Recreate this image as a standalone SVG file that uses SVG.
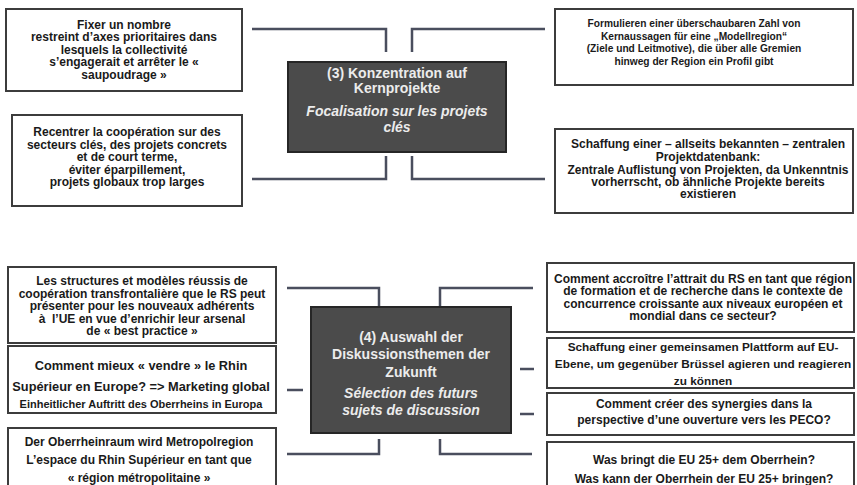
<svg xmlns="http://www.w3.org/2000/svg" width="857" height="485" viewBox="0 0 857 485">
<style>
.box{fill:#ffffff;stroke:#3c3c3c;stroke-width:2}
.core{fill:#4b4b4b;stroke:#262626;stroke-width:2}
.t{font-family:"Liberation Sans",Arial,sans-serif;font-weight:bold;fill:#1a1a1a;text-anchor:middle;font-size:12px}
.s{font-size:10.2px}
.c{font-family:"Liberation Sans",Arial,sans-serif;font-weight:bold;fill:#ececec;text-anchor:middle;font-size:14px}
.i{font-style:italic}
.con{fill:none;stroke:#4a4e5e;stroke-width:2.5}
</style>
<rect width="857" height="485" fill="#ffffff"/>
<g id="connectors">
<polyline class="con" points="252,29 386,29 386,52"/>
<polyline class="con" points="545,29 412,29 412,52"/>
<polyline class="con" points="386,156 386,179 252,179"/>
<polyline class="con" points="412,156 412,179 545,179"/>
<polyline class="con" points="287,288 379,288 379,307"/>
<polyline class="con" points="533,288 440,288 440,307"/>
<line class="con" x1="287" y1="390" x2="303" y2="390"/>
<polyline class="con" points="379,439 379,454 287,454"/>
<polyline class="con" points="440,439 440,454 532,454"/>
<line class="con" x1="520" y1="369" x2="534" y2="369"/>
<line class="con" x1="520" y1="414" x2="534" y2="414"/>
</g>
<g id="n-fixer">
<rect class="box" x="6" y="9" width="236" height="82"/>
<text class="t"><tspan x="124" y="28.5">Fixer un nombre</tspan><tspan x="124" y="41">restreint d’axes prioritaires dans</tspan><tspan x="124" y="53.5">lesquels la collectivité</tspan><tspan x="124" y="66">s’engagerait et arrêter le «</tspan><tspan x="124" y="78.5">saupoudrage »</tspan></text>
</g>
<g id="n-formulieren">
<rect class="box" x="555" y="9" width="298" height="76"/>
<text class="t s"><tspan x="694" y="27">Formulieren einer überschaubaren Zahl von</tspan><tspan x="694" y="39.5">Kernaussagen für eine „Modellregion“</tspan><tspan x="694" y="52">(Ziele und Leitmotive), die über alle Gremien</tspan><tspan x="694" y="64.5">hinweg der Region ein Profil gibt</tspan></text>
</g>
<g id="n-recentrer">
<rect class="box" x="12" y="115" width="230" height="91"/>
<text class="t"><tspan x="127" y="136">Recentrer la coopération sur des</tspan><tspan x="127" y="148.6">secteurs clés, des projets concrets</tspan><tspan x="127" y="161">et de court terme,</tspan><tspan x="127" y="173.6">éviter éparpillement,</tspan><tspan x="127" y="186">projets globaux trop larges</tspan></text>
</g>
<g id="n-datenbank">
<rect class="box" x="555" y="129" width="298" height="84"/>
<text class="t"><tspan x="708" y="148.3">Schaffung einer – allseits bekannten – zentralen</tspan><tspan x="708" y="161">Projektdatenbank:</tspan><tspan x="708" y="173.6">Zentrale Auflistung von Projekten, da Unkenntnis</tspan><tspan x="708" y="186">vorherrscht, ob ähnliche Projekte bereits</tspan><tspan x="708" y="198.3">existieren</tspan></text>
</g>
<g id="n-3">
<rect class="core" x="288" y="62" width="218" height="90"/>
<text class="c"><tspan x="397" y="78">(3) Konzentration auf</tspan><tspan x="397" y="93">Kernprojekte</tspan></text>
<text class="c i"><tspan x="397" y="116">Focalisation sur les projets</tspan><tspan x="397" y="132">clés</tspan></text>
</g>
<g id="n-structures">
<rect class="box" x="8" y="267" width="268" height="76"/>
<text class="t"><tspan x="142" y="285.3">Les structures et modèles réussis de</tspan><tspan x="142" y="297.6">coopération transfrontalière que le RS peut</tspan><tspan x="142" y="310.3">présenter pour les nouveaux adhérents</tspan><tspan x="142" y="322.6" style="white-space:pre">à  l’UE en vue d’enrichir leur arsenal</tspan><tspan x="142" y="335.3">de « best practice »</tspan></text>
</g>
<g id="n-vendre">
<rect class="box" x="8" y="346" width="268" height="67"/>
<text class="t" style="font-size:12.8px"><tspan x="141" y="369.5">Comment mieux « vendre » le Rhin</tspan><tspan x="141" y="390.5">Supérieur en Europe? =&gt; Marketing global</tspan></text>
<text class="t" style="font-size:11px" x="141" y="408">Einheitlicher Auftritt des Oberrheins in Europa</text>
</g>
<g id="n-metropol">
<rect class="box" x="8" y="428" width="268" height="64"/>
<text class="t"><tspan x="139" y="446">Der Oberrheinraum wird Metropolregion</tspan><tspan x="139" y="463.6">L’espace du Rhin Supérieur en tant que</tspan><tspan x="139" y="482">« région métropolitaine »</tspan></text>
</g>
<g id="n-4">
<rect class="core" x="311" y="307" width="200" height="126"/>
<text class="c"><tspan x="411" y="342">(4) Auswahl der</tspan><tspan x="411" y="359">Diskussionsthemen der</tspan><tspan x="411" y="377">Zukunft</tspan></text>
<text class="c i"><tspan x="411" y="398">Sélection des futurs</tspan><tspan x="411" y="415">sujets de discussion</tspan></text>
</g>
<g id="n-attrait">
<rect class="box" x="547" y="263" width="307" height="69"/>
<text class="t"><tspan x="703" y="282.6">Comment accroître l’attrait du RS en tant que région</tspan><tspan x="703" y="295.3">de formation et de recherche dans le contexte de</tspan><tspan x="703" y="307.6">concurrence croissante aux niveaux européen et</tspan><tspan x="703" y="320.3">mondial dans ce secteur?</tspan></text>
</g>
<g id="n-plattform">
<rect class="box" x="547" y="338" width="307" height="50"/>
<text class="t" style="font-size:11.8px"><tspan x="703" y="351">Schaffung einer gemeinsamen Plattform auf EU-</tspan><tspan x="703" y="368">Ebene, um gegenüber Brüssel agieren und reagieren</tspan><tspan x="703" y="385">zu können</tspan></text>
</g>
<g id="n-peco">
<rect class="box" x="547" y="393" width="307" height="42"/>
<text class="t"><tspan x="704" y="407.6">Comment créer des synergies dans la</tspan><tspan x="704" y="423.6">perspective d’une ouverture vers les PECO?</tspan></text>
</g>
<g id="n-eu25">
<rect class="box" x="547" y="442" width="307" height="50"/>
<text class="t"><tspan x="704" y="464.3">Was bringt die EU 25+ dem Oberrhein?</tspan><tspan x="704" y="483">Was kann der Oberrhein der EU 25+ bringen?</tspan></text>
</g>
</svg>
